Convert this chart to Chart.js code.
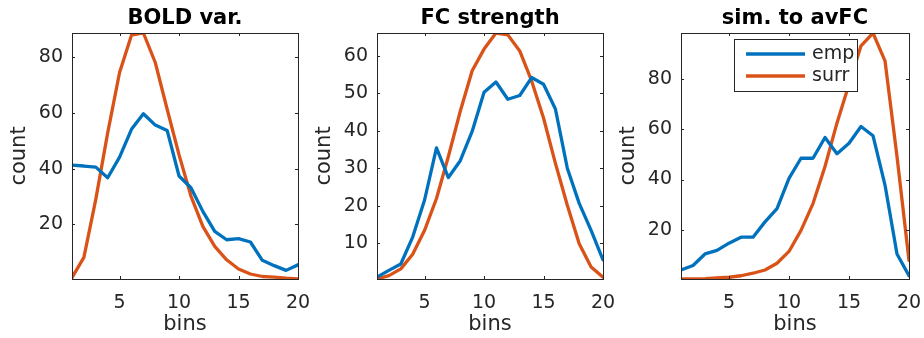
<!DOCTYPE html>
<html>
<head>
<meta charset="utf-8">
<script src="https://cdn.jsdelivr.net/npm/chart.js@4.4.1/dist/chart.umd.min.js"></script>
<style>
    body { margin: 0; background: #fff; width: 924px; height: 338px; overflow: hidden; position: relative; }
    canvas { position: absolute; top: 0; }
</style>
</head>
<body>
<canvas id="c1" width="312" height="338" style="left:0px"></canvas>
<canvas id="c2" width="312" height="338" style="left:305px"></canvas>
<canvas id="c3" width="314" height="338" style="left:609px"></canvas>
<script>
const bins = [1, 2, 3, 4, 5, 6, 7, 8, 9, 10, 11, 12, 13, 14, 15, 16, 17, 18, 19, 20]
const xTicks = [5, 10, 15, 20]
const seriesNames = ['emp', 'surr']

const boldEmp = [41.3, 41, 40.6, 36.8, 44.2, 54.2, 59.8, 55.7, 53.8, 37.4, 33.2, 24.7, 17.5, 14.5, 14.9, 13.7, 7.1, 5.2, 3.5, 5.5]
const boldSurr = [0.9, 8.2, 29, 52.9, 74.6, 88, 88.8, 78.2, 61.4, 45, 30.2, 19.3, 12.1, 7.3, 4, 2.2, 1.3, 1.1, 0.7, 0.4]
const boldTicks = [20, 40, 60, 80]

const fcEmp = [0.9, 2.7, 4.4, 11.6, 21.5, 35.4, 27.5, 32, 39.8, 50.3, 53, 48.4, 49.4, 54.2, 52.4, 45.8, 30, 20.6, 13.4, 5.5]
const fcSurr = [0.4, 1.3, 3.1, 7, 13.4, 21.9, 33.1, 45.2, 56, 61.8, 66.1, 65.6, 61.3, 53.3, 43.4, 31.3, 20.1, 9.8, 3.6, 0.9]
const fcTicks = [10, 20, 30, 40, 50, 60]

const simEmp = [3.9, 5.7, 10.3, 11.7, 14.6, 17, 17, 23.1, 28.4, 40.5, 48.5, 48.5, 56.8, 50.3, 54.5, 61.2, 57.5, 37.8, 10.3, 1.6]
const simSurr = [0.3, 0.3, 0.4, 0.7, 1, 1.6, 2.6, 3.9, 6.6, 11.3, 19.7, 30.4, 45.2, 62.6, 78, 93.4, 98.5, 87.4, 49.2, 7.7]
const simTicks = [20, 40, 60, 80]

const BLUE = '#0072BD'
const RED = '#D95319'
const AXIS = '#262626'
const FONT = "'DejaVu Sans', sans-serif"

// matlab style box with inward ticks on all four sides
const boxPlugin = {
    id: 'box',
    afterDatasetsDraw: chart => {
        const { ctx, chartArea: a, scales: { x, y } } = chart
        const tl = 3
        ctx.save()
        ctx.strokeStyle = AXIS
        ctx.lineWidth = 1
        ctx.beginPath()
        x.ticks.forEach(t => {
            const px = Math.round(x.getPixelForValue(t.value)) + 0.5
            ctx.moveTo(px, a.bottom); ctx.lineTo(px, a.bottom - tl)
            ctx.moveTo(px, a.top); ctx.lineTo(px, a.top + tl)
        })
        y.ticks.forEach(t => {
            const py = Math.round(y.getPixelForValue(t.value)) + 0.5
            ctx.moveTo(a.left, py); ctx.lineTo(a.left + tl, py)
            ctx.moveTo(a.right, py); ctx.lineTo(a.right - tl, py)
        })
        ctx.stroke()
        ctx.strokeRect(Math.round(a.left) + 0.5, Math.round(a.top) + 0.5, Math.round(a.right - a.left), Math.round(a.bottom - a.top))
        ctx.restore()
    }
}

const legendPlugin = {
    id: 'boxLegend',
    afterDatasetsDraw: chart => {
        const { ctx, chartArea: a } = chart
        const lx = a.left + 53, ly = a.top + 6, w = 123, h = 52
        ctx.save()
        ctx.fillStyle = '#fff'
        ctx.fillRect(lx, ly, w, h)
        ctx.strokeStyle = AXIS
        ctx.lineWidth = 1
        ctx.strokeRect(Math.round(lx) + 0.5, Math.round(ly) + 0.5, w, h)
        ctx.font = `19px ${FONT}`
        ctx.textBaseline = 'middle'
        chart.data.datasets.forEach((ds, i) => {
            const yy = ly + 15 + i * 22
            ctx.strokeStyle = ds.borderColor
            ctx.lineWidth = 3.3
            ctx.beginPath()
            ctx.moveTo(lx + 12, yy); ctx.lineTo(lx + 71, yy)
            ctx.stroke()
            ctx.fillStyle = AXIS
            ctx.fillText(ds.label, lx + 78, yy)
        })
        ctx.restore()
    }
}

const makeChart = (id, title, emp, surr, yTicks, withLegend) => {
    const all = emp.concat(surr)
    const plugins = [boxPlugin]
    if (withLegend) plugins.push(legendPlugin)
    return new Chart(document.getElementById(id), {
        type: 'line',
        data: {
            datasets: [
                { label: seriesNames[0], data: bins.map((b, i) => ({ x: b, y: emp[i] })), borderColor: BLUE },
                { label: seriesNames[1], data: bins.map((b, i) => ({ x: b, y: surr[i] })), borderColor: RED }
            ]
        },
        options: {
            responsive: false,
            animation: false,
            devicePixelRatio: 1,
            layout: { padding: { left: 0, right: 14, top: 0, bottom: 0 } },
            elements: {
                line: { borderWidth: 3.3, tension: 0, borderJoinStyle: 'round', borderCapStyle: 'round' },
                point: { radius: 0 }
            },
            plugins: {
                legend: { display: false },
                tooltip: { enabled: false },
                title: {
                    display: true,
                    text: title,
                    fullSize: false,
                    color: '#000',
                    font: { family: FONT, size: 21, weight: 'bold', lineHeight: 1.2 },
                    padding: { top: 6, bottom: 1.8 }
                }
            },
            scales: {
                x: {
                    type: 'linear',
                    min: bins[0],
                    max: bins[bins.length - 1],
                    afterBuildTicks: s => { s.ticks = xTicks.map(v => ({ value: v })) },
                    afterFit: s => { s.height = 59; s.paddingLeft = 0; s.paddingRight = 0 },
                    grid: { display: false, drawTicks: false },
                    border: { display: false },
                    ticks: { color: AXIS, padding: 13, maxRotation: 0, font: { family: FONT, size: 19 } },
                    title: { display: true, text: 'bins', color: AXIS, padding: 1, font: { family: FONT, size: 21, lineHeight: 1.2 } }
                },
                y: {
                    type: 'linear',
                    min: Math.min(...all),
                    max: Math.max(...all),
                    afterBuildTicks: s => { s.ticks = yTicks.map(v => ({ value: v })) },
                    afterFit: s => { s.width = 72; s.paddingTop = 0; s.paddingBottom = 0 },
                    grid: { display: false, drawTicks: false },
                    border: { display: false },
                    ticks: { color: AXIS, padding: 9, font: { family: FONT, size: 19 } },
                    title: { display: true, text: 'count', color: AXIS, padding: 7, font: { family: FONT, size: 21, lineHeight: 1.2 } }
                }
            }
        },
        plugins: plugins
    })
}

makeChart('c1', 'BOLD var.', boldEmp, boldSurr, boldTicks, false)
makeChart('c2', 'FC strength', fcEmp, fcSurr, fcTicks, false)
makeChart('c3', 'sim. to avFC', simEmp, simSurr, simTicks, true)
</script>
</body>
</html>
